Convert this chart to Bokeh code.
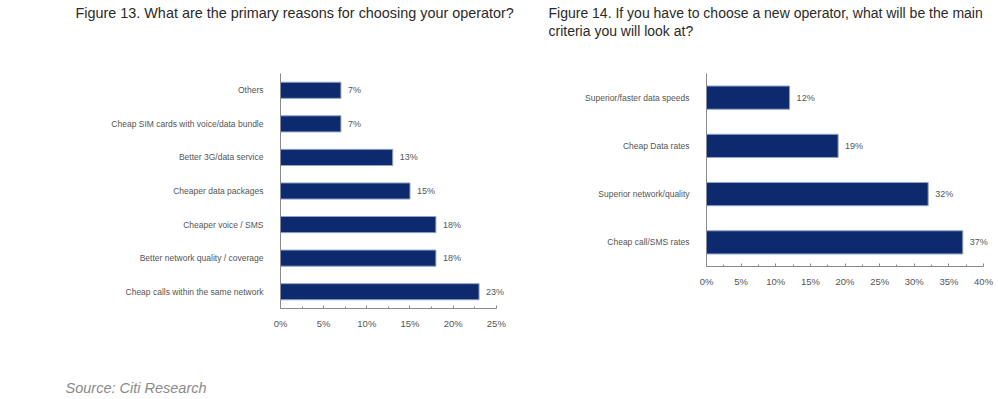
from bokeh.plotting import figure
from bokeh.models import ColumnDataSource, Title, FactorRange, Range1d, FixedTicker, CustomJSTickFormatter
from bokeh.core.properties import value
from bokeh.layouts import row
from bokeh.embed import file_html
from bokeh.resources import INLINE

FONT = "Liberation Sans"
NAVY = "#0c2a6d"
GREY = "#555555"

# Figure 13 data (top to bottom)
reasons = ["Others", "Cheap SIM cards with voice/data bundle", "Better 3G/data service",
           "Cheaper data packages", "Cheaper voice / SMS", "Better network quality / coverage",
           "Cheap calls within the same network"]
reason_pct = [7, 7, 13, 15, 18, 18, 23]

# Figure 14 data (top to bottom)
criteria = ["Superior/faster data speeds", "Cheap Data rates", "Superior network/quality",
            "Cheap call/SMS rates"]
criteria_pct = [12, 19, 32, 37]

title13 = "Figure 13. What are the primary reasons for choosing your operator?"
title14 = ["Figure 14. If you have to choose a new operator, what will be the main",
           "criteria you will look at?"]
source_text = "Source: Citi Research"


def make_bar(cats, vals, fw, fh, x_end, x_max, left, right, top, bar_h):
    p = figure(frame_width=fw, frame_height=fh, output_backend="svg", toolbar_location=None,
               y_range=FactorRange(factors=list(reversed(cats)), range_padding=0),
               x_range=Range1d(0, x_end),
               min_border_left=left, min_border_right=right, min_border_top=top,
               min_border_bottom=0)
    src = ColumnDataSource(dict(c=cats, v=vals, lab=[f"{v}%" for v in vals]))
    p.hbar(y="c", right="v", left=0, height=bar_h, source=src, fill_color=NAVY,
           line_color="#8fa3c8", line_width=1)
    p.text(x="v", y="c", text="lab", source=src, x_offset=7, text_baseline="middle",
           text_font=value(FONT), text_font_size="9px", text_color=GREY)
    p.outline_line_color = None
    p.grid.grid_line_color = None
    p.background_fill_color = "white"
    p.border_fill_color = "white"
    p.xaxis.bounds = (0, x_max)
    p.xaxis.ticker = FixedTicker(ticks=list(range(0, x_max + 1, 5)),
                                 minor_ticks=[x + 2.5 for x in range(0, x_max, 5)])
    p.xaxis.formatter = CustomJSTickFormatter(code="return tick + '%';")
    for ax in (p.xaxis, p.yaxis):
        ax.axis_line_color = "#8a8a8a"
        ax.major_tick_line_color = "#8a8a8a"
        ax.minor_tick_line_color = "#8a8a8a"
        ax.major_label_text_font = FONT
        ax.major_label_text_color = GREY
    p.xaxis.major_label_text_font_size = "9.5px"
    p.yaxis.major_label_text_font_size = "8.5px"
    p.xaxis.major_tick_in = 3
    p.xaxis.major_tick_out = 0
    p.xaxis.minor_tick_in = 2
    p.xaxis.minor_tick_out = 0
    p.yaxis.major_tick_line_color = None
    p.yaxis.major_label_standoff = 11
    p.xaxis.major_label_standoff = 9
    return p


# frame 1: page x 280..520, y 73..308 ; frame 2: page x 706..990, y 73..266
p1 = make_bar(reasons, reason_pct, 240, 235, 27.8, 25, 280, 0, 73, 0.48)
p2 = make_bar(criteria, criteria_pct, 284, 193, 41, 40, 186, 7, 73, 0.48)

TKW = dict(text_font=FONT, text_color="#2a2a2a", text_font_style="normal", align="left")
SPACER = dict(text=" ", text_font_size="1px", align="left")

# figure 13 title: spacer nearest the frame, then the title
p1.add_layout(Title(standoff=50, **SPACER), "above")
p1.add_layout(Title(text=title13, offset=-205, standoff=0, text_font_size="14.4px", **TKW),
              "above")

# figure 14 title (two lines)
p2.add_layout(Title(standoff=32, **SPACER), "above")
p2.add_layout(Title(text=title14[1], offset=-158, standoff=0, text_font_size="14px", **TKW),
              "above")
p2.add_layout(Title(text=title14[0], offset=-158, standoff=0, text_font_size="14px", **TKW),
              "above")

# source line below figure 13
p1.add_layout(Title(standoff=43, **SPACER), "below")
p1.add_layout(Title(text=source_text, offset=-215, standoff=0, text_font=FONT,
                    text_font_size="14.5px", text_color="#8a8a8a", text_font_style="italic",
                    align="left"), "below")

layout = row(p1, p2)
open("out.html", "w").write(file_html(layout, INLINE))
